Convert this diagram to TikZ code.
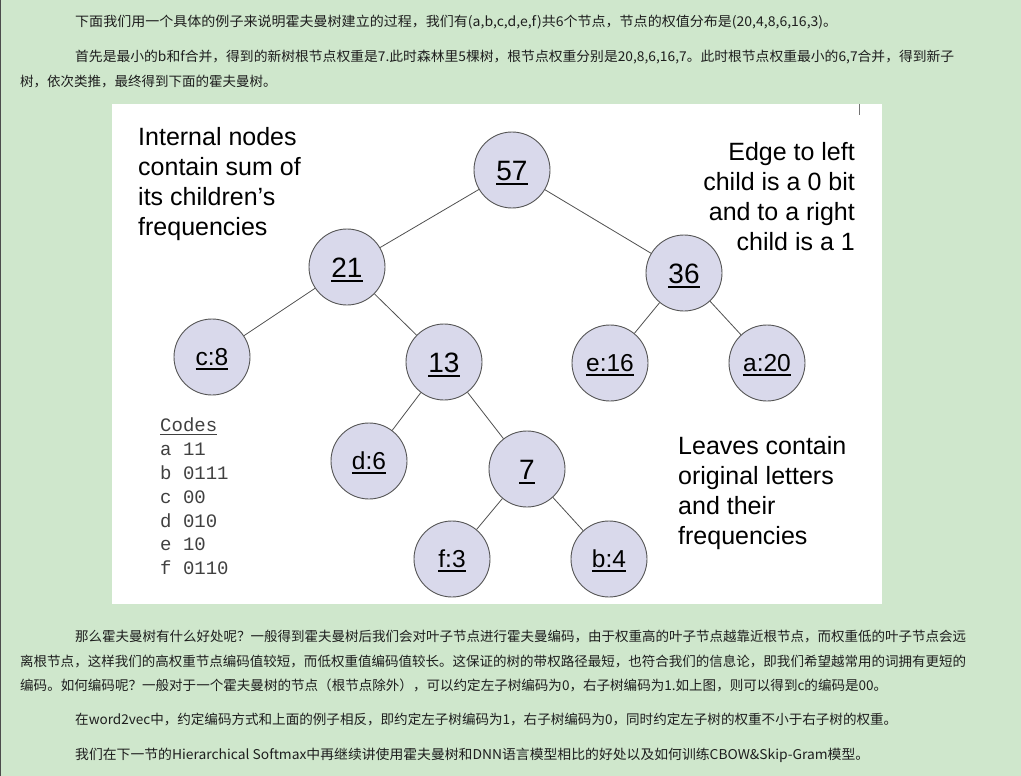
\documentclass[tikz,border=0pt]{standalone}
\usepackage{graphicx}
\usepackage{fontspec}
\setmainfont{Liberation Sans}
\newfontfamily\cjk{Noto Sans CJK SC}
\newfontfamily\monof{Liberation Mono}
\definecolor{pagegreen}{RGB}{207,231,204}
\definecolor{lav}{RGB}{217,217,235}
\definecolor{nodeborder}{RGB}{85,85,85}
\definecolor{edgecol}{RGB}{80,80,80}
\definecolor{bodytext}{RGB}{30,30,30}
\newcommand\nodeul[1]{\setbox0=\hbox{#1}\rlap{\rule[-4.5pt]{\wd0}{1.8pt}}\box0}
\newcommand\codeul[1]{\setbox0=\hbox{#1}\rlap{\rule[-3pt]{\wd0}{1pt}}\box0}
\newcommand\fitto[2]{\resizebox{#1}{\height}{#2}}
\tikzset{
  treenode/.style={circle, draw=nodeborder, fill=lav, line width=0.9pt, minimum size=76pt, inner sep=0pt},
  internal/.style={treenode, font=\fontsize{28}{30}\selectfont, text height=20pt, text depth=0pt},
  leafnode/.style={treenode, font=\fontsize{24.5}{28}\selectfont, text height=17.5pt, text depth=0pt},
  edge/.style={draw=edgecol, line width=0.8pt},
  note/.style={inner sep=0pt, font=\fontsize{25}{30}\selectfont},
  cjkline/.style={inner sep=0pt, anchor=base west, text=bodytext, font=\cjk\fontsize{13.5}{16}\selectfont},
}
\begin{document}
\begin{tikzpicture}[x=1pt,y=-1pt]
\useasboundingbox (0,0) rectangle (1021,776);
\fill[pagegreen] (0,0) rectangle (1021,776);
\draw[black!70, line width=1.2pt] (0.6,0) -- (0.6,776);
\fill[white] (112,104) rectangle (882,604);
\draw[black!55, line width=1pt] (859,104) -- (859,115);

% top paragraphs
\node[cjkline] (t1) at (75,27) {\fitto{762pt}{下面我们用一个具体的例子来说明霍夫曼树建立的过程，我们有(a,b,c,d,e,f)共6个节点，节点的权值分布是(20,4,8,6,16,3)。}};
\node[cjkline] (t2) at (75,62) {\fitto{879pt}{首先是最小的b和f合并，得到的新树根节点权重是7.此时森林里5棵树，根节点权重分别是20,8,6,16,7。此时根节点权重最小的6,7合并，得到新子}};
\node[cjkline] (t3) at (20,87) {树，依次类推，最终得到下面的霍夫曼树。};

% tree
\node[internal] (n57) at (512,170) {\nodeul{57}};
\node[internal] (n21) at (347,267) {\nodeul{21}};
\node[internal] (n36) at (684,273) {\nodeul{36}};
\node[leafnode] (c8) at (212,357) {\nodeul{c:8}};
\node[internal] (n13) at (444,362) {\nodeul{13}};
\node[leafnode] (e16) at (610,363) {\nodeul{e:16}};
\node[leafnode] (a20) at (767,363) {\nodeul{a:20}};
\node[leafnode] (d6) at (369,461) {\nodeul{d:6}};
\node[internal] (n7) at (527,469) {\nodeul{7}};
\node[leafnode] (f3) at (452,559) {\nodeul{f:3}};
\node[leafnode] (b4) at (609,559) {\nodeul{b:4}};

\draw[edge] (n57) -- (n21);
\draw[edge] (n57) -- (n36);
\draw[edge] (n21) -- (c8);
\draw[edge] (n21) -- (n13);
\draw[edge] (n13) -- (d6);
\draw[edge] (n13) -- (n7);
\draw[edge] (n7) -- (f3);
\draw[edge] (n7) -- (b4);
\draw[edge] (n36) -- (e16);
\draw[edge] (n36) -- (a20);

% notes
\node[note, anchor=north west, align=left] (internalnote) at (138,127) {Internal nodes\\contain sum of\\its children’s\\frequencies};
\node[note, anchor=north east, align=right] (edgenote) at (855,142) {Edge to left\\child is a 0 bit\\and to a right\\child is a 1};
\node[note, anchor=north west, align=left] (leafnote) at (678,436) {Leaves contain\\original letters\\and their\\frequencies};
\node[inner sep=0pt, anchor=north west, align=left, text=black!75, font=\monof\fontsize{19}{23.8}\selectfont] (codes) at (160,418) {\codeul{Codes}\\a 11\\b 0111\\c 00\\d 010\\e 10\\f 0110};

% bottom paragraphs
\node[cjkline] (b1) at (75,641) {\fitto{891pt}{那么霍夫曼树有什么好处呢？一般得到霍夫曼树后我们会对叶子节点进行霍夫曼编码，由于权重高的叶子节点越靠近根节点，而权重低的叶子节点会远}};
\node[cjkline] (b2) at (20,666) {\fitto{946pt}{离根节点，这样我们的高权重节点编码值较短，而低权重值编码值较长。这保证的树的带权路径最短，也符合我们的信息论，即我们希望越常用的词拥有更短的}};
\node[cjkline] (b3) at (20,690) {\fitto{867pt}{编码。如何编码呢？一般对于一个霍夫曼树的节点（根节点除外），可以约定左子树编码为0，右子树编码为1.如上图，则可以得到c的编码是00。}};
\node[cjkline] (b4l) at (75,724) {\fitto{822pt}{在word2vec中，约定编码方式和上面的例子相反，即约定左子树编码为1，右子树编码为0，同时约定左子树的权重不小于右子树的权重。}};
\node[cjkline] (b5) at (75,759) {\fitto{794pt}{我们在下一节的Hierarchical Softmax中再继续讲使用霍夫曼树和DNN语言模型相比的好处以及如何训练CBOW\&Skip-Gram模型。}};
\end{tikzpicture}
\end{document}
